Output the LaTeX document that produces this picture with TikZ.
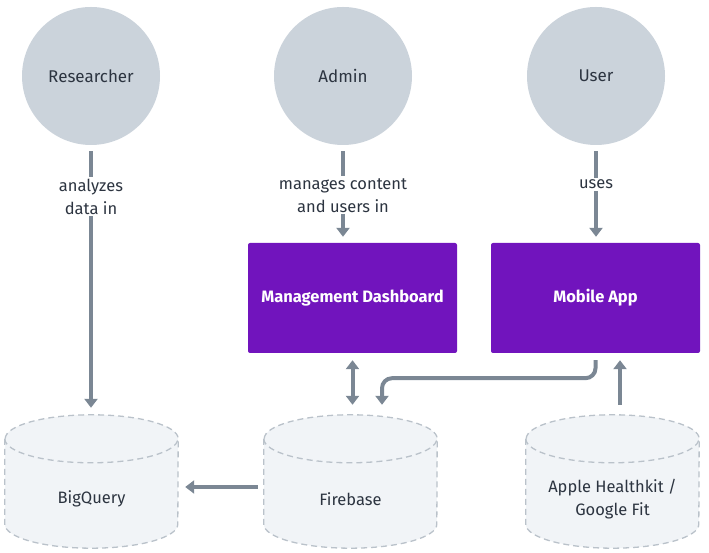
\documentclass[tikz,border=0pt]{standalone}
\usepackage{fontspec}
\setmainfont{Fira Sans}
\usepackage{tikz}
\usetikzlibrary{arrows.meta}
\usetikzlibrary{backgrounds}
\usetikzlibrary{positioning}

\definecolor{actorfill}{HTML}{CBD3DB}
\definecolor{ink}{HTML}{2C3440}
\definecolor{appfill}{HTML}{7114BD}
\definecolor{flowgray}{HTML}{7B8794}
\definecolor{dbdash}{HTML}{BAC2CA}
\definecolor{dbfill}{HTML}{F1F4F7}

\begin{document}
\begin{tikzpicture}[x=1pt, y=1pt, font=\fontsize{16.5}{23}\selectfont,
	actor/.style={circle, fill=actorfill, text=ink, minimum size=138pt, inner sep=0pt,
				font=\fontsize{17}{23}\selectfont},
	app/.style={rectangle, rounded corners=2pt, fill=appfill, text=white,
				font=\fontsize{16.5}{23}\selectfont\bfseries,
				minimum width=209pt, minimum height=110pt},
	store/.style={rectangle, minimum width=173pt, minimum height=133pt, inner sep=0pt},
	storetext/.style={text=ink, align=center, yshift=-17.5pt},
	flow/.style={draw=flowgray, line width=4pt, -{Triangle[width=13pt,length=9pt]}},
	note/.style={fill=white, text=ink, align=center, inner sep=2pt},
]
\useasboundingbox (0,0) rectangle (709,553);
\node [actor] (R) at (91,477) {Researcher};
\node [actor] (A) at (343,477) {Admin};
\node [actor] (U) at (596,477) {User};
\node [app]   (MD) at (352.5,255) {Management Dashboard};
\node [app]   (MA) at (595.5,255) {Mobile App};
\node [store] (BQ) at (91.5,71.5) [label={[storetext]center:BigQuery}] {};
\node [store] (FB) at (350.5,71.5) [label={[storetext]center:Firebase}] {};
\node [store] (HK) at (612.5,71.5)
	[label={[storetext]center:Apple Healthkit /\\Google Fit}] {};
%
\begin{scope}[on background layer]
\foreach \db in {BQ,FB,HK} {
	\path [fill=dbfill, draw=dbdash, line width=1.3pt, dash pattern=on 6pt off 4pt]
		([yshift=-24pt]\db.north west) -- ([yshift=24pt]\db.south west)
		arc[start angle=180, end angle=360, x radius=86.5pt, y radius=24pt]
		-- ([yshift=-24pt]\db.north east)
		arc[start angle=0, end angle=180, x radius=86.5pt, y radius=24pt] -- cycle;
	\draw [draw=dbdash, line width=1.3pt, dash pattern=on 6pt off 4pt]
		([yshift=-24pt]\db.north west)
		arc[start angle=180, end angle=360, x radius=86.5pt, y radius=24pt];
}
\end{scope}
%
\draw [flow, shorten <=6pt, shorten >=7pt] (R.south) -- (R.south |- BQ.north)
	node [note, pos=0.19] {analyzes\\data in};
\draw [flow, shorten <=6pt, shorten >=6pt] (A.south) -- (A.south |- MD.north)
	node [note, pos=0.515] {manages content\\and users in};
\draw [flow, shorten <=6pt, shorten >=6pt] (U.south) -- (U.south |- MA.north)
	node [note, pos=0.40] {uses};
\draw [flow, {Triangle[width=13pt,length=9pt]}-{Triangle[width=13pt,length=9pt]},
	shorten <=7pt, shorten >=10pt] (MD.south) -- (MD.south |- FB.north);
\draw [flow, rounded corners=10pt, shorten <=7pt, shorten >=10pt]
	(MA.south) -- ++(0,-25) -| ([xshift=31.5pt]FB.north);
\draw [flow, shorten <=10pt, shorten >=7pt]
	([xshift=7.5pt]HK.north) -- ([xshift=7.5pt]HK.north |- MA.south);
\draw [flow, shorten <=6pt, shorten >=7pt]
	([yshift=-5.5pt]FB.west) -- ([yshift=-5.5pt]FB.west -| BQ.east);
\end{tikzpicture}
\end{document}
